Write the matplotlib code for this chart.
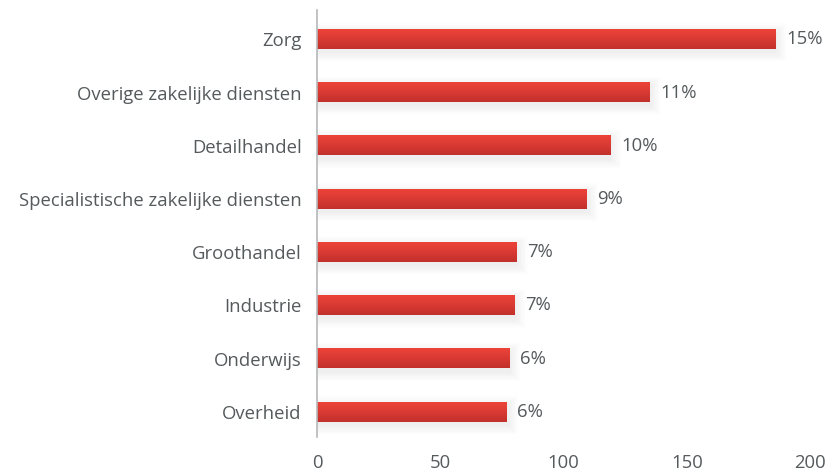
import matplotlib.pyplot as plt
import numpy as np
from matplotlib.colors import LinearSegmentedColormap
from matplotlib.patches import Rectangle

plt.rcParams["font.family"] = ["Open Sans", "DejaVu Sans"]

sectors = [
    "Zorg",
    "Overige zakelijke diensten",
    "Detailhandel",
    "Specialistische zakelijke diensten",
    "Groothandel",
    "Industrie",
    "Onderwijs",
    "Overheid",
]
counts = [186, 135, 119, 109.5, 81, 80, 78, 77]
shares = ["15%", "11%", "10%", "9%", "7%", "7%", "6%", "6%"]

text_col = "#555a5c"
fs = 13.3
bar_h = 0.36
grad = LinearSegmentedColormap.from_list("redgrad", ["#ec4339", "#d93a33", "#c2302c"])

fig = plt.figure(figsize=(8.3, 4.75), dpi=100)
ax = fig.add_axes([0.382, 0.08, 0.594, 0.899])

y = np.arange(len(sectors))
gradient = np.linspace(0, 1, 64).reshape(-1, 1)

for yi, val, lab in zip(y, counts, shares):
    # soft drop shadow: stacked faint boxes
    for k in range(8):
        py = 0.022 * (k + 1)
        px = 0.55 * (k + 1)
        ax.add_patch(Rectangle((0, yi - bar_h / 2 - py + 0.06), val + px,
                               bar_h + 2 * py, linewidth=0, facecolor="black",
                               alpha=0.008, zorder=1))
    ax.imshow(gradient, cmap=grad, aspect="auto", zorder=2,
              extent=(0, val, yi + bar_h / 2, yi - bar_h / 2))
    ax.text(val + 4.3, yi, lab, va="center", ha="left", fontsize=fs, color=text_col)

ax.set_xlim(0, 200)
ax.set_ylim(7.47, -0.55)
ax.set_yticks(y)
ax.set_yticklabels(sectors, fontsize=fs, color=text_col)
ax.set_xticks([0, 50, 100, 150, 200])
ax.tick_params(axis="x", labelsize=fs, colors=text_col, length=0, pad=12)
ax.tick_params(axis="y", length=0, pad=11)
for side in ["top", "right", "bottom"]:
    ax.spines[side].set_visible(False)
ax.spines["left"].set_color("#b5b8ba")
ax.spines["left"].set_linewidth(1.2)
ax.spines["left"].set_zorder(3)
ax.set_facecolor("none")

fig.savefig("out.png", dpi=100)
